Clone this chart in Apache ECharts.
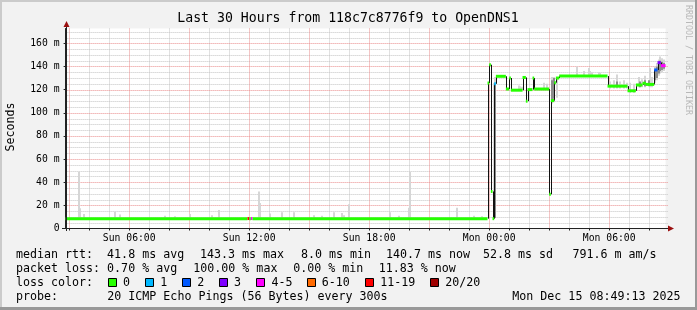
<!DOCTYPE html>
<html><head><meta charset="utf-8">
<script src="https://cdn.jsdelivr.net/npm/echarts@6/dist/echarts.min.js"></script>
<style>html,body{margin:0;padding:0;background:#f2f2f2}#c{width:697px;height:310px}</style>
</head><body><div id="c"></div><script>
// ---------- data ----------
const titleText = 'Last 30 Hours from 118c7c8776f9 to OpenDNS1';
const startTime = 'Sun 02:49:13';
const endTime = 'Mon 08:49:13';
const xTickLabels = ['Sun 06:00', 'Sun 12:00', 'Sun 18:00', 'Mon 00:00', 'Mon 06:00'];
const yTickValues = [0, 20, 40, 60, 80, 100, 120, 140, 160];
const yMax = 172.8;

// median rtt (ms): step segments starting at these times
const medianStart = ['Sun 02:49:13','Sun 11:55','Sun 12:00','Sun 12:05','Sun 12:10','Sun 23:55','Mon 00:00','Mon 00:05','Mon 00:10','Mon 00:15','Mon 00:20','Mon 00:50','Mon 01:00','Mon 01:05','Mon 01:40','Mon 01:50','Mon 01:55','Mon 02:10','Mon 02:15','Mon 03:00','Mon 03:05','Mon 03:15','Mon 03:20','Mon 03:30','Mon 05:55','Mon 06:55','Mon 07:20','Mon 07:40','Mon 07:50','Mon 08:15','Mon 08:25','Mon 08:35'];
const medianValue = [8.5, 8.6, 8.5, 8.6, 8.5, 125.7, 141.5, 32, 8.5, 125, 131.5, 120.5, 130, 119.5, 130.5, 110, 120, 130, 120.5, 29.6, 110.5, 126, 130, 131.7, 123, 119, 124, 125.5, 124.5, 137, 143.3, 140.7];
const medianLoss = [0, 6, 0, 4, 0, 0, 0, 0, 0, 1, 0, 0, 0, 0, 0, 0, 0, 0, 0, 0, 0, 0, 0, 0, 0, 0, 0, 0, 0, 2, 3, 4];

// smoke (ping spread, ms) per 5-minute bin
const smokeTime = ['Sun 03:25','Sun 03:30','Sun 03:40','Sun 05:15','Sun 05:30','Sun 07:45','Sun 08:15','Sun 09:00','Sun 10:05','Sun 10:25','Sun 12:25','Sun 12:30','Sun 13:00','Sun 13:35','Sun 14:10','Sun 15:10','Sun 15:35','Sun 16:10','Sun 16:35','Sun 16:40','Sun 16:55','Sun 19:00','Sun 19:25','Sun 19:55','Sun 20:00','Sun 22:20','Sun 23:10','Sun 23:35',
  'Mon 00:10','Mon 00:15','Mon 01:25','Mon 01:30','Mon 01:35','Mon 02:40','Mon 02:50','Mon 03:05','Mon 03:10','Mon 03:20','Mon 04:20','Mon 04:40','Mon 04:55','Mon 05:00','Mon 05:05','Mon 05:25','Mon 05:30','Mon 06:00','Mon 06:10','Mon 06:20','Mon 06:30','Mon 06:40','Mon 06:50','Mon 07:00','Mon 07:10','Mon 07:25','Mon 07:35','Mon 07:45','Mon 08:00','Mon 08:05','Mon 08:15','Mon 08:20','Mon 08:25','Mon 08:30','Mon 08:35','Mon 08:40'];
const smokeLow = [8.5,8.5,8.5,8.5,8.5,8.5,8.5,8.5,8.5,8.5,8.5,8.5,8.5,8.5,8.5,8.5,8.5,8.5,8.5,8.5,8.5,8.5,8.5,8.5,8.5,8.5,8.5,8.5,
  8.5,9,119,119,119,120,120,108,109,113,131,131,131,131,131,131,131,121,121,121,121,121,121,117,117,122,122,122,122,122,126,128,132,134,135,136];
const smokeHigh = [49,17.5,12.5,14.5,12,11,10.5,12.5,11.5,16,32,22,13,14,14,11.5,11,14,13.5,11.5,21,14,11,18,49,18,11,10.5,
  126,131,123.5,123,122.5,126,125,131,131,131,140,136,138.7,136,135,135,134.5,127,128,133,127,128,126,126,125,131,129,132,138.6,131,140,143,146,148.7,147,146];
// denser core of the smoke
const coreTime = ['Mon 00:15','Mon 03:05','Mon 03:10','Mon 06:20','Mon 07:30','Mon 07:45','Mon 07:55','Mon 08:15','Mon 08:20','Mon 08:25','Mon 08:30','Mon 08:35','Mon 08:40'];
const coreLow = [9,110,112,122,122,123,123,128,130,134,136,137,138];
const coreHigh = [125,128,130,127,127,128,128,137,140,143,145,144,143];

const lossLabels = ['0','1','2','3','4-5','6-10','11-19','20/20'];
const lossColors = ['#26ff00','#00b8ff','#0059ff','#7e00ff','#ff00ff','#ff6a00','#ff0000','#a00000'];

const rttLine = ['median rtt:  41.8 ms avg', '143.3 ms max', '8.0 ms min', '140.7 ms now', '52.8 ms sd', '791.6 m am/s'];
const lossLine = ['packet loss: 0.70 % avg', '100.00 % max', '0.00 % min', '11.83 % now'];
const probeLabel = 'probe:';
const probeText = '20 ICMP Echo Pings (56 Bytes) every 300s';
const dateText = 'Mon Dec 15 08:49:13 2025';

// ---------- helpers ----------
function toMin(s) {
  const [d, t] = s.split(' ');
  const p = t.split(':').map(Number);
  return (d === 'Mon' ? 1440 : 0) + p[0] * 60 + p[1] + (p[2] || 0) / 60;
}
const X0 = toMin(startTime), X1 = toMin(endTime);
const xTickVals = xTickLabels.map(toMin);
const hourTicks = [];
for (let h = Math.ceil(X0 / 60) * 60; h <= X1; h += 60) hourTicks.push(h);
const minorY = [];
for (let v = 5; v < yMax; v += 5) minorY.push(v);

const MONO = '"DejaVu Sans Mono", monospace';
const segs = medianStart.map((s, i) => [toMin(s), i + 1 < medianStart.length ? toMin(medianStart[i + 1]) : X1, medianValue[i], medianLoss[i]]);
const steps = [];
for (let i = 1; i < segs.length; i++) steps.push([segs[i][0], segs[i - 1][2], segs[i][2]]);
const smokeData = smokeTime.map((t, i) => [toMin(t), smokeLow[i], smokeHigh[i]]);
const coreData = coreTime.map((t, i) => [toMin(t), coreLow[i], coreHigh[i]]);

const snap = v => Math.round(v) + 0.5;

function gridV(color, onlyMajor) {
  return {
    type: 'custom', silent: true, z: 1,
    data: hourTicks.filter(h => (h % 180 === 0) === onlyMajor).map(h => [h, 0]),
    encode: { x: 0, y: 1 },
    renderItem(params, api) {
      const cs = params.coordSys;
      const x = snap(api.coord([api.value(0), 0])[0]);
      return { type: 'line', shape: { x1: x, y1: cs.y, x2: x, y2: cs.y + cs.height }, style: { stroke: color, lineWidth: 1, lineDash: [1, 1] } };
    }
  };
}
function gridH(color, major) {
  const vals = major ? yTickValues.filter(v => v > 0) : minorY.filter(v => v % 20 !== 0);
  return {
    type: 'custom', silent: true, z: 1,
    data: vals.map(v => [X0, v]),
    encode: { x: 0, y: 1 },
    renderItem(params, api) {
      const cs = params.coordSys;
      const y = snap(api.coord([X0, api.value(1)])[1]);
      return { type: 'line', shape: { x1: cs.x + 1, y1: y, x2: cs.x + cs.width + 2.5, y2: y }, style: { stroke: color, lineWidth: 1, lineDash: [1, 1] } };
    }
  };
}
function rangeSeries(data, color, z) {
  return {
    type: 'custom', silent: true, z: z, data: data, encode: { x: 0, y: [1, 2] },
    renderItem(params, api) {
      const t = api.value(0), lo = api.value(1), hi = api.value(2);
      const p0 = api.coord([t, hi]), p1 = api.coord([t + 5, lo]);
      const x0 = Math.round(p0[0]);
      const x1 = Math.max(x0 + 2, Math.round(p1[0]));
      return { type: 'rect', shape: { x: x0, y: p0[1], width: x1 - x0, height: p1[1] - p0[1] }, style: { fill: color } };
    }
  };
}

const graphics = [
  // frame
  { type: 'rect', shape: { x: 0, y: 0, width: 697, height: 2 }, style: { fill: '#cbcbcb' }, silent: true },
  { type: 'rect', shape: { x: 0, y: 0, width: 2, height: 310 }, style: { fill: '#cbcbcb' }, silent: true },
  { type: 'rect', shape: { x: 0, y: 307, width: 697, height: 3 }, style: { fill: '#999999' }, silent: true },
  { type: 'rect', shape: { x: 695, y: 0, width: 2, height: 310 }, style: { fill: '#999999' }, silent: true },
  // axis extensions and arrows
  { type: 'line', shape: { x1: 66.5, y1: 231, x2: 66.5, y2: 24 }, style: { stroke: '#222', lineWidth: 1 }, z: 10 },
  { type: 'line', shape: { x1: 62, y1: 228.5, x2: 669, y2: 228.5 }, style: { stroke: '#222', lineWidth: 1 }, z: 10 },
  { type: 'polygon', shape: { points: [[66.5, 21], [63.5, 27], [69.5, 27]] }, style: { fill: '#9b1010' }, z: 11 },
  { type: 'polygon', shape: { points: [[674, 228.5], [668, 225.5], [668, 231.5]] }, style: { fill: '#9b1010' }, z: 11 },
  // axis name
  { type: 'text', x: 11, y: 127, rotation: Math.PI / 2, style: { text: 'Seconds', font: '11.6px ' + MONO, fill: '#000', align: 'center', verticalAlign: 'middle' } },
  // watermark
  { type: 'text', x: 688.5, y: 5, rotation: -Math.PI / 2, style: { text: 'RRDTOOL / TOBI OETIKER', font: '8.3px ' + MONO, fill: '#b8b8b8', align: 'left', verticalAlign: 'middle' } },
  // title
  { type: 'text', x: 348, y: 19, style: { text: titleText, font: '13.2px ' + MONO, fill: '#000', align: 'center', verticalAlign: 'middle' } }
];
const LF = '11.65px ' + MONO;
const rttX = [16, 200, 301, 386, 483, 572.5];
rttLine.forEach((t, i) => graphics.push({ type: 'text', x: rttX[i], y: 255, style: { text: t, font: LF, fill: '#000', verticalAlign: 'middle' } }));
const lossX = [16, 193.3, 293.3, 378.7];
lossLine.forEach((t, i) => graphics.push({ type: 'text', x: lossX[i], y: 268.5, style: { text: t, font: LF, fill: '#000', verticalAlign: 'middle' } }));
graphics.push({ type: 'text', x: 16, y: 282.5, style: { text: 'loss color:', font: LF, fill: '#000', verticalAlign: 'middle' } });
const boxX = [108, 145.3, 182.2, 219.1, 256.4, 306.7, 365.3, 430.2];
lossLabels.forEach((l, i) => {
  const bx = Math.round(boxX[i]) + 0.5;
  graphics.push({ type: 'rect', shape: { x: bx, y: 278.5, width: 8, height: 8 }, style: { fill: lossColors[i], stroke: '#000', lineWidth: 1 } });
  graphics.push({ type: 'text', x: boxX[i] + 15, y: 282.5, style: { text: l, font: LF, fill: '#000', verticalAlign: 'middle' } });
});
graphics.push({ type: 'text', x: 16, y: 296.5, style: { text: probeLabel, font: LF, fill: '#000', verticalAlign: 'middle' } });
graphics.push({ type: 'text', x: 107.3, y: 296.5, style: { text: probeText, font: LF, fill: '#000', verticalAlign: 'middle' } });
graphics.push({ type: 'text', x: 680.5, y: 296.5, style: { text: dateText, font: LF, fill: '#000', align: 'right', verticalAlign: 'middle' } });

const option = {
  backgroundColor: '#f2f2f2',
  animation: false,
  grid: { left: 65.6, top: 28.5, width: 600, height: 200, show: true, backgroundColor: '#ffffff', borderWidth: 0 },
  xAxis: {
    type: 'value', min: X0, max: X1,
    axisLine: { show: true, lineStyle: { color: '#222' } },
    axisTick: { show: true, customValues: hourTicks, length: 2, lineStyle: { color: '#222' } },
    axisLabel: { customValues: xTickVals, formatter: v => xTickLabels[xTickVals.indexOf(v)] || '', margin: 5, fontFamily: MONO, fontSize: 9.75, color: '#000' },
    splitLine: { show: false }
  },
  yAxis: {
    type: 'value', min: 0, max: yMax, interval: 20,
    axisLine: { show: true, lineStyle: { color: '#222' } },
    axisTick: { show: true, length: 2, lineStyle: { color: '#222' } },
    axisLabel: { showMaxLabel: false, margin: 6, fontFamily: MONO, fontSize: 9.75, color: '#000',
      formatter: v => (yTickValues.indexOf(v) < 0 ? '' : (v === 0 ? '0' : v + ' m')) },
    splitLine: { show: false }
  },
  graphic: graphics,
  series: [
    gridH('#c4c4c4', false),
    gridV('#c4c4c4', false),
    gridH('#ea8e8e', true),
    gridV('#ea8e8e', true),
    rangeSeries(smokeData, '#d6d6d6', 3),
    rangeSeries(coreData, '#8c8c8c', 4),
    {
      type: 'custom', silent: true, z: 5, data: steps, encode: { x: 0, y: [1, 2] },
      renderItem(params, api) {
        const p0 = api.coord([api.value(0), api.value(1)]);
        const p1 = api.coord([api.value(0), api.value(2)]);
        const x = snap(p0[0]);
        return { type: 'line', shape: { x1: x, y1: p0[1], x2: x, y2: p1[1] }, style: { stroke: '#111', lineWidth: 1 } };
      }
    },
    {
      type: 'custom', silent: true, z: 6, data: segs, encode: { x: [0, 1], y: 2 },
      renderItem(params, api) {
        const p0 = api.coord([api.value(0), api.value(2)]);
        const p1 = api.coord([api.value(1), api.value(2)]);
        return { type: 'line', shape: { x1: p0[0], y1: p0[1], x2: p1[0], y2: p1[1] }, style: { stroke: lossColors[api.value(3)], lineWidth: 3 } };
      }
    }
  ]
};
echarts.init(document.getElementById('c')).setOption(option);
</script></body></html>
